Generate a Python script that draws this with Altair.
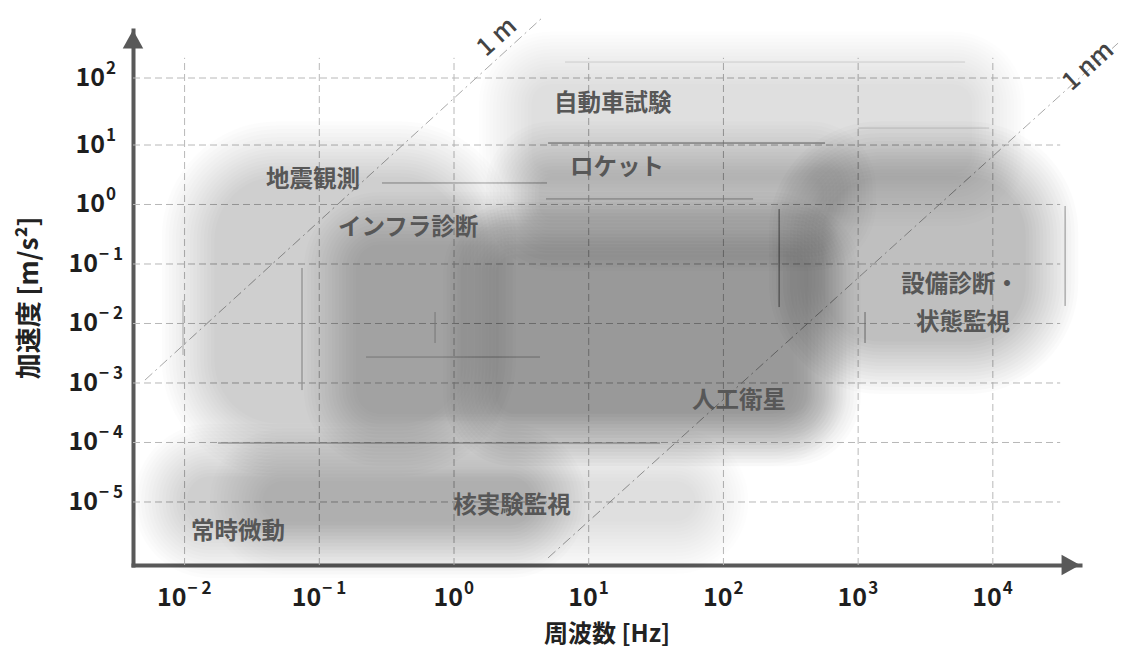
import altair as alt
import pandas as pd

# ---------------- data ----------------
region_names = ["自動車試験", "ロケット", "地震観測", "インフラ診断",
                "人工衛星", "設備診断・状態監視", "核実験監視", "常時微動"]
region_freq_lo = [2.4, 2.7, 0.0106, 0.12, 1.3, 340.0, 0.024, 0.0066]
region_freq_hi = [11000.0, 870.0, 1.85, 520.0, 670.0, 27500.0, 98.0, 6.1]
region_acc_lo = [1.2, 0.21, 7.5e-5, 1.1e-4, 1.1e-4, 1.8e-3, 1.7e-6, 1.45e-6]
region_acc_hi = [200.0, 8.2, 8.2, 0.59, 0.40, 8.2, 6.2e-5, 7.5e-5]

label_texts = ["自動車試験", "ロケット", "地震観測", "インフラ診断", "設備診断・",
               "状態監視", "人工衛星", "核実験監視", "常時微動"]
label_freq = [15.1, 16.2, 0.0898, 0.456, 5710.0, 6010.0, 130.6, 2.70, 0.0249]
label_acc = [40.9, 4.10, 2.58, 0.403, 0.0444, 0.0102, 4.98e-4, 8.4e-6, 3.13e-6]

disp_names = ["1 m", "1 nm"]
disp_freq_start = [0.00508, 4.99]
disp_freq_end = [4.5, 85000.0]
disp_acc_start = [1.12e-3, 1.15e-6]
disp_acc_end = [787.0, 331.0]
disp_label_freq = [2.08, 50900.0]
disp_label_acc = [410.0, 151.0]

# thin edge lines visible in the picture
edge_freq_lo = [4.99, 259.0, 34400.0, 0.0177, 0.0744, 0.292, 0.222, 4.82, 0.00973, 0.723, 1125.0, 6.67, 1000.0]
edge_freq_hi = [568.0, 259.0, 34400.0, 33.8, 0.0744, 4.9, 4.35, 166.0, 0.00973, 0.723, 1125.0, 6220.0, 9380.0]
edge_acc_lo = [10.7, 0.0189, 0.0197, 9.8e-5, 7.6e-4, 2.3, 2.73e-3, 1.24, 2.96e-3, 0.0047, 0.0047, 173.0, 17.9]
edge_acc_hi = [10.7, 0.84, 0.944, 9.8e-5, 0.0857, 2.3, 2.73e-3, 1.24, 0.0248, 0.0156, 0.0156, 173.0, 17.9]

grid_freq = [0.01, 0.1, 1.0, 10.0, 100.0, 1000.0, 10000.0]
grid_acc = [100.0, 10.0, 1.0, 0.1, 0.01, 0.001, 0.0001, 0.00001]
x_tick_exps = ["− 2", "− 1", "0", "1", "2", "3", "4"]
y_tick_exps = ["2", "1", "0", "− 1", "− 2", "− 3", "− 4", "− 5"]

# ---------------- layout & style ----------------
FONT = "Noto Sans CJK JP"
W, H = 947, 535
X_DOMAIN = [10 ** -2.383, 10 ** 4.647]
Y_DOMAIN = [10 ** -6.059, 10.0, 100.0, 10 ** 2.716]
Y_RANGE = [H, 115, 48, 0]
GRID_F_END = 10 ** 4.5
GRID_A_END = 200.0
PX_X = 134.7
PX_Y_LO, PX_Y_HI = 59.5, 67.0
region_shade = [0.10, 0.18, 0.19, 0.15, 0.21, 0.23, 0.12, 0.15]
region_corner = [45.0, 40.0, 90.0, 50.0, 45.0, 85.0, 50.0, 50.0]
edge_tone = ["#8a8a8a", "#7a7a7a", "#999999", "#999999", "#aaaaaa", "#aaaaaa", "#bbbbbb",
             "#aaaaaa", "#bbbbbb", "#bbbbbb", "#8a8a8a", "#dddddd", "#dddddd"]
K, R = 16, 28.0
AXIS_COLOR = "#595959"

XS = alt.Scale(type="log", domain=X_DOMAIN, range=[0, W], nice=False)
YS = alt.Scale(type="log", domain=Y_DOMAIN, range=Y_RANGE, nice=False)

X_AXIS = alt.Axis(domain=True, domainColor=AXIS_COLOR, domainWidth=4, domainCap="square",
                  ticks=False, labels=False, grid=False, title="周波数 [Hz]", titleFont=FONT,
                  titleFontSize=24, titleFontWeight="bold", titleColor="#222222", titleY=69,
                  titleBaseline="middle")
Y_AXIS = alt.Axis(domain=True, domainColor=AXIS_COLOR, domainWidth=4, domainCap="square",
                  ticks=False, labels=False, grid=False, title="加速度 [m/s²]", titleFont=FONT,
                  titleFontSize=26, titleFontWeight="bold", titleColor="#222222", titleX=-104,
                  titleAngle=270, titleBaseline="middle")


def xe(field):
    return alt.X(f"{field}:Q", scale=XS, axis=X_AXIS)


def ye(field):
    return alt.Y(f"{field}:Q", scale=YS, axis=Y_AXIS)


def x2e(field):
    return alt.X2(f"{field}:Q")


def y2e(field):
    return alt.Y2(f"{field}:Q")


# ---------------- grid ----------------
gv = pd.DataFrame({"f": grid_freq, "a0": Y_DOMAIN[0], "a1": GRID_A_END})
gh = pd.DataFrame({"a": grid_acc, "f0": X_DOMAIN[0], "f1": GRID_F_END})
grid_v = alt.Chart(gv).mark_rule(color="#b8b8b8", strokeWidth=1, strokeDash=[7, 4]).encode(
    x=xe("f"), y=ye("a0"), y2=y2e("a1"))
grid_h = alt.Chart(gh).mark_rule(color="#b8b8b8", strokeWidth=1, strokeDash=[7, 4]).encode(
    x=xe("f0"), x2=x2e("f1"), y=ye("a"))

# ---------------- displacement lines ----------------
dl = pd.DataFrame({
    "name": disp_names * 2,
    "f": disp_freq_start + disp_freq_end,
    "a": disp_acc_start + disp_acc_end,
    "o": [0, 0, 1, 1],
})
disp_lines = alt.Chart(dl).mark_line(color="#a9a9a9", strokeWidth=1, strokeDash=[10, 4, 2, 4]).encode(
    x=xe("f"), y=ye("a"), detail="name:N", order="o:Q")
dlab = pd.DataFrame({"t": disp_names, "f": disp_label_freq, "a": disp_label_acc})
disp_labels = alt.Chart(dlab).mark_text(font=FONT, fontSize=25, fontWeight=500, color="#444444",
                                        angle=318, align="center", baseline="middle").encode(
    x=xe("f"), y=ye("a"), text="t:N")

# ---------------- thin edge lines ----------------
ed = pd.DataFrame({"f0": edge_freq_lo, "f1": edge_freq_hi, "a0": edge_acc_lo,
                   "a1": edge_acc_hi, "c": edge_tone})
edges = alt.Chart(ed).mark_rule(strokeWidth=1).encode(
    x=xe("f0"), x2=x2e("f1"), y=ye("a0"), y2=y2e("a1"), color=alt.Color("c:N", scale=None))


# ---------------- soft regions (stacked rounded rects) ----------------
def grow_acc(a, e):
    px = PX_Y_HI if a > 10 else PX_Y_LO
    return a * 10 ** (e / px)


blob_layers = []
for k in range(K):
    e = R * (1 - 2 * (k + 0.5) / K)
    for rad in sorted(set(region_corner)):
        rows = []
        for i, n in enumerate(region_names):
            if region_corner[i] != rad:
                continue
            rows.append({
                "name": n,
                "f0": region_freq_lo[i] * 10 ** (-e / PX_X),
                "f1": region_freq_hi[i] * 10 ** (e / PX_X),
                "a0": grow_acc(region_acc_lo[i], -e),
                "a1": grow_acc(region_acc_hi[i], e),
                "op": 1 - (1 - region_shade[i]) ** (1 / K),
            })
        df = pd.DataFrame(rows)
        blob_layers.append(
            alt.Chart(df).mark_rect(color="black", cornerRadius=max(3.0, rad + e)).encode(
                x=xe("f0"), x2=x2e("f1"), y=ye("a0"), y2=y2e("a1"),
                opacity=alt.Opacity("op:Q", scale=None)))

# ---------------- region labels ----------------
lab = pd.DataFrame({"t": label_texts, "f": label_freq, "a": label_acc})
labels = alt.Chart(lab).mark_text(font=FONT, fontSize=23.5, fontWeight="bold", color="#575757",
                                  align="center", baseline="middle").encode(
    x=xe("f"), y=ye("a"), text="t:N")

# ---------------- tick labels 10^n ----------------
xt = pd.DataFrame({"v": grid_freq, "e": x_tick_exps})
yt = pd.DataFrame({"v": grid_acc, "e": y_tick_exps})


def tick_layers(df, is_x):
    out = []
    for neg in (True, False):
        sub = df[df["e"].str.startswith("−") == neg]
        if is_x:
            pos = dict(x=xe("v"), y=alt.value(H + 33))
        else:
            pos = dict(x=alt.value(-37), y=ye("v"))
        d = 2 if neg else 9
        out.append(alt.Chart(sub).mark_text(text="10", align="right", baseline="middle", dx=d,
                                            font=FONT, fontSize=25, fontWeight="bold",
                                            color="#1e1e1e").encode(**pos))
        out.append(alt.Chart(sub).mark_text(align="left", baseline="middle", dx=d + 1, dy=-9,
                                            font=FONT, fontSize=17, fontWeight="bold",
                                            color="#1e1e1e").encode(text="e:N", **pos))
    return out


ticks = tick_layers(xt, True) + tick_layers(yt, False)

# ---------------- axis arrows ----------------
ay = pd.DataFrame({"f": [X_DOMAIN[0]], "a": [Y_DOMAIN[-1]]})
ax = pd.DataFrame({"f": [X_DOMAIN[1]], "a": [Y_DOMAIN[0]]})
arrow_y = alt.Chart(ay).mark_point(shape="M0,0L-1,1.8L1,1.8Z", size=420, filled=True,
                                   color=AXIS_COLOR, opacity=1, strokeWidth=0).encode(
    x=xe("f"), y=ye("a"))
arrow_x = alt.Chart(ax).mark_point(shape="M0,0L-1.8,-1L-1.8,1Z", size=420, filled=True,
                                   color=AXIS_COLOR, opacity=1, strokeWidth=0).encode(
    x=xe("f"), y=ye("a"))

chart = alt.layer(
    grid_v, grid_h, disp_lines, edges, *blob_layers, labels, disp_labels, *ticks, arrow_y, arrow_x
).properties(
    width=W, height=H,
    autosize=alt.AutoSizeParams(type="none"),
    padding={"left": 125, "top": 22, "right": 42, "bottom": 87},
    background="white",
).configure_view(stroke=None)

chart.save("out.html", embed_options={"renderer": "svg", "actions": False})
